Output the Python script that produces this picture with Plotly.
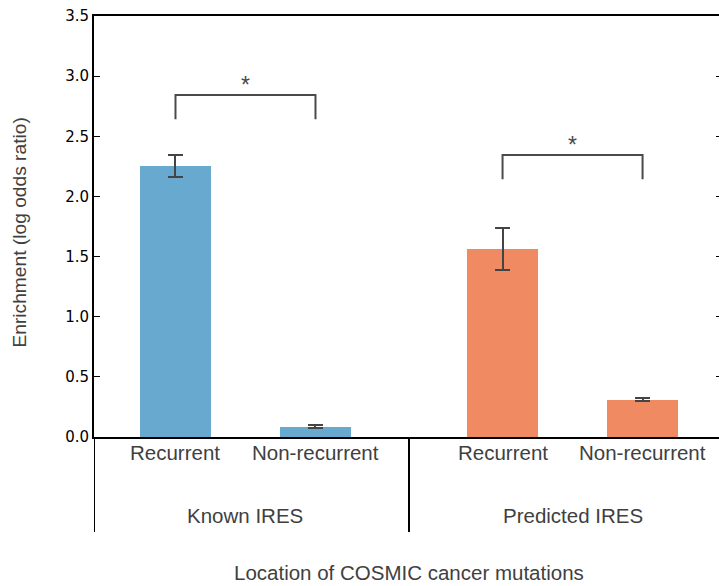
import plotly.graph_objects as go

# ---- data ----
groups = ["Known IRES", "Predicted IRES"]
categories = ["Recurrent", "Non-recurrent", "Recurrent", "Non-recurrent"]
x_pos = [0.0, 1.0, 2.336, 3.336]
values = [2.253, 0.085, 1.563, 0.31]
errors = [0.095, 0.012, 0.177, 0.012]
bar_colors = ["#67a9cf", "#67a9cf", "#ef8a62", "#ef8a62"]
group_centers = [0.5, 2.836]
group_separators = [-0.582, 1.668]
# significance brackets: (x_left, x_right, top, bottom of legs, star height)
brackets = [
    (0.0, 1.0, 2.843, 2.641, 2.93),
    (2.336, 3.336, 2.344, 2.142, 2.43),
]
y_ticks = [0.0, 0.5, 1.0, 1.5, 2.0, 2.5, 3.0, 3.5]

TXT = "#404040"
FONT = "Liberation Sans, Arial, sans-serif"

fig = go.Figure()
fig.add_trace(go.Bar(
    x=x_pos, y=values, width=0.507,
    marker=dict(color=bar_colors, line=dict(width=0)),
    error_y=dict(type="data", array=errors, visible=True,
                 color="#444444", thickness=2, width=7.5),
    showlegend=False, hoverinfo="skip",
))

for (xl, xr, top, bot, star) in brackets:
    fig.add_trace(go.Scatter(
        x=[xl, xl, xr, xr], y=[bot, top, top, bot], mode="lines",
        line=dict(color="#4a4a4a", width=2), showlegend=False, hoverinfo="skip",
    ))
    fig.add_annotation(x=(xl + xr) / 2, y=star, xref="x", yref="y", text="*",
                       showarrow=False, font=dict(family=FONT, size=23, color="#4a4a4a"),
                       yanchor="middle")

# invisible trace for the right-side tick axis
fig.add_trace(go.Scatter(x=[x_pos[0]], y=[0], yaxis="y2", mode="markers",
                         marker=dict(opacity=0), showlegend=False, hoverinfo="skip"))

for xs in group_separators:
    fig.add_shape(type="line", xref="x", yref="paper", x0=xs, x1=xs, y0=0, y1=-0.2257,
                  line=dict(color="black", width=2))

# category labels under the bars
for c, xp in zip(categories, x_pos):
    fig.add_annotation(x=xp, y=-0.038, xref="x", yref="paper", text=c, showarrow=False,
                       font=dict(family=FONT, size=20.5, color=TXT), yanchor="middle")

for g, gc in zip(groups, group_centers):
    fig.add_annotation(x=gc, y=-0.1876, xref="x", yref="paper", text=g, showarrow=False,
                       font=dict(family=FONT, size=20.5, color=TXT), yanchor="middle")

fig.add_annotation(x=1.668, y=-0.323, xref="x", yref="paper",
                   text="Location of COSMIC cancer mutations", showarrow=False,
                   font=dict(family=FONT, size=20.5, color=TXT), yanchor="middle")
fig.add_annotation(x=-0.1184, y=0.4857, xref="paper", yref="paper",
                   text="Enrichment (log odds ratio)", showarrow=False, textangle=-90,
                   font=dict(family=FONT, size=19.2, color=TXT), xanchor="center", yanchor="middle")

fig.update_layout(
    width=719, height=586,
    margin=dict(l=94, r=0, t=16, b=149),
    paper_bgcolor="white", plot_bgcolor="white",
    bargap=0,
    xaxis=dict(range=[-0.582, 3.882], tickvals=x_pos, showticklabels=False,
               showline=True, linecolor="black", linewidth=2, mirror=True,
               ticks="", showgrid=False, zeroline=False),
    yaxis=dict(range=[0, 3.5], tickvals=y_ticks, ticktext=[f"{v:.1f}" for v in y_ticks],
               showline=True, linecolor="black", linewidth=2,
               ticks="inside", ticklen=6, tickcolor="black", tickwidth=1,
               showgrid=False, zeroline=False,
               tickfont=dict(family="DejaVu Sans", size=15, color="black")),
    yaxis2=dict(range=[0, 3.5], overlaying="y", side="right", tickvals=y_ticks,
                showticklabels=False, showline=False, ticks="inside", ticklen=3,
                tickcolor="black", tickwidth=1, showgrid=False, zeroline=False),
)

fig.write_html("out.html")
